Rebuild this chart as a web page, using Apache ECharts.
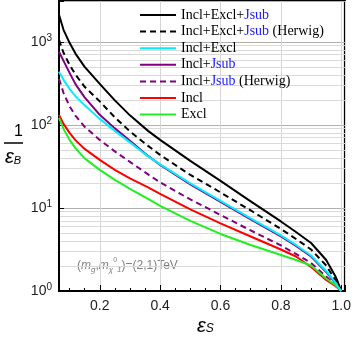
<!DOCTYPE html>
<html><head><meta charset="utf-8">
<script src="https://cdn.jsdelivr.net/npm/echarts@6/dist/echarts.min.js"></script>
<style>html,body{margin:0;padding:0;background:#fff}#c{width:354px;height:339px}</style>
</head><body><div id="c"></div>
<script>
const eps = [0.065, 0.08, 0.1, 0.12, 0.15, 0.2, 0.25, 0.3, 0.36, 0.4, 0.5, 0.6, 0.7, 0.8, 0.85, 0.9, 0.95, 0.98, 0.99, 1.0];
const inclExclJsub = [2115, 1395, 972.7, 716.9, 499.7, 311.9, 197.3, 130.2, 84.7, 65.95, 36.8, 21.15, 11.97, 6.876, 5.137, 3.787, 2.363, 1.516, 1.248, 1.0];
const inclExclJsubHerwig = [1057, 737.1, 528.4, 400.5, 287.0, 191.9, 123.1, 83.5, 55.85, 43.5, 24.98, 15.37, 9.331, 5.585, 4.231, 3.162, 2.029, 1.357, 1.165, 1.0];
const inclExcl = [435.1, 348.5, 271.5, 220.5, 171.8, 118.1, 84.67, 61.54, 41.73, 33.43, 19.73, 12.14, 7.474, 4.664, 3.583, 2.678, 1.742, 1.266, 1.117, 1.0];
const inclJsub = [757.9, 590.3, 423.1, 307.6, 214.5, 132.0, 90.76, 64.15, 42.31, 32.97, 19.19, 11.81, 7.269, 4.535, 3.485, 2.604, 1.694, 1.248, 1.102, 1.0];
const inclJsubHerwig = [358.3, 242.9, 167.1, 128.4, 94.6, 65.96, 47.94, 35.83, 25.33, 20.29, 12.66, 8.235, 5.357, 3.533, 2.792, 2.175, 1.495, 1.181, 1.087, 1.0];
const incl = [132.0, 102.8, 80.08, 65.05, 51.38, 37.87, 28.70, 22.67, 17.66, 14.75, 9.592, 6.507, 4.535, 3.162, 2.604, 1.946, 1.357, 1.149, 1.072, 1.0];
const excl = [121.4, 89.47, 65.96, 52.11, 39.48, 28.70, 21.74, 16.94, 12.84, 10.57, 6.973, 4.862, 3.583, 2.715, 2.363, 2.029, 1.414, 1.181, 1.087, 1.0];
const seriesNames = ['Incl+Excl+Jsub', 'Incl+Excl+Jsub (Herwig)', 'Incl+Excl', 'Incl+Jsub', 'Incl+Jsub (Herwig)', 'Incl', 'Excl'];
const minorGrid = [2,3,4,5,6,7,8,9,20,30,40,50,60,70,80,90,200,300,400,500,600,700,800,900];
const yMajor = [1, 10, 100, 1000];

const pts = arr => eps.map((x, i) => [x, arr[i]]);
const chart = echarts.init(document.getElementById('c'));
const mk = (name, data, color, type, z) => ({
  name, type: 'line', data: pts(data), showSymbol: false, symbol: 'none',
  smooth: false, z: z || 3,
  lineStyle: { color, width: 2, type: type === 'dashed' ? [6, 4] : 'solid', join: 'round' },
  itemStyle: { color }
});
const serif = 'Liberation Serif, Times New Roman, serif';
const sans = 'Liberation Sans, Arial, sans-serif';
chart.setOption({
  animation: false,
  backgroundColor: '#fff',
  grid: { left: 59, right: 6, top: 1, bottom: 48, show: true, borderColor: '#000', borderWidth: 2, backgroundColor: 'transparent' },
  legend: {
    orient: 'vertical', left: 134, top: 3, itemWidth: 36, itemHeight: 10, itemGap: 2.6, z: 20,
    selectedMode: false,
    data: seriesNames,
    itemStyle: { color: 'transparent', borderColor: 'transparent', borderWidth: 0 },
    formatter: n => n.replace('Jsub', '{j|Jsub}'),
    textStyle: { fontFamily: serif, fontSize: 14, color: '#000', lineHeight: 14,
      rich: { j: { fontFamily: serif, fontSize: 14, color: '#1a1aff', lineHeight: 14 } } }
  },
  xAxis: [{
    type: 'value', min: 0.065, max: 1.012, splitNumber: 5,
    axisLine: { onZero: false, lineStyle: { color: '#000', width: 2 } },
    axisTick: { inside: true, length: 6, lineStyle: { color: '#000', width: 1 } },
    axisLabel: { margin: 8, fontFamily: sans, fontSize: 14, color: '#222',
      formatter: v => (Math.abs(v * 5 - Math.round(v * 5)) < 1e-6) ? v.toFixed(1) : '' },
    splitLine: { show: true, lineStyle: { color: '#d6d6d6', width: 1 } }
  }, {
    type: 'value', min: 0.065, max: 1.012, splitNumber: 19, position: 'bottom',
    axisLine: { show: false, onZero: false },
    axisTick: { inside: true, length: 3, lineStyle: { color: '#000', width: 1 } },
    axisLabel: { show: false }, splitLine: { show: false }
  }],
  yAxis: {
    type: 'log', logBase: 10, min: 1, max: 3100,
    axisLine: { lineStyle: { color: '#000', width: 2 } },
    axisTick: { inside: true, length: 5, lineStyle: { color: '#000', width: 1 } },
    axisLabel: { margin: 7, fontFamily: sans, fontSize: 14, color: '#222',
      formatter: v => { const e = Math.round(Math.log10(v)); return yMajor.includes(v) ? '{b|10}{s|' + e + '}' : ''; },
      rich: { b: { fontFamily: sans, fontSize: 14, color: '#222', lineHeight: 18 },
              s: { fontFamily: sans, fontSize: 10, color: '#222', lineHeight: 11, verticalAlign: 'top' } } },
    splitLine: { show: true, lineStyle: { color: '#b0b0b0', width: 1 } }
  },
  series: [
    { type: 'line', data: [], z: 0, silent: true,
      markLine: { silent: true, symbol: 'none', label: { show: false }, z: 0,
        lineStyle: { color: '#dadada', width: 1, type: 'solid' },
        data: minorGrid.map(v => ({ yAxis: v })) } },
    mk(seriesNames[0], inclExclJsub, '#000000', 'solid'),
    mk(seriesNames[1], inclExclJsubHerwig, '#000000', 'dashed'),
    mk(seriesNames[3], inclJsub, '#800080', 'solid'),
    mk(seriesNames[2], inclExcl, '#00eeff', 'solid', 4),
    mk(seriesNames[4], inclJsubHerwig, '#800080', 'dashed'),
    mk(seriesNames[5], incl, '#ff0000', 'solid'),
    mk(seriesNames[6], excl, '#22ee22', 'solid')
  ],
  graphic: [
    { type: 'text', left: 14, top: 124, style: { text: '1', font: '16px ' + sans, fill: '#000' } },
    { type: 'line', shape: { x1: 4, y1: 143, x2: 23, y2: 143 }, style: { stroke: '#000', lineWidth: 1.5 } },
    { type: 'text', left: 5, top: 147, style: { text: '{e|ε}{s|B}',
      rich: { e: { font: 'italic 20px ' + sans, fill: '#000', lineHeight: 18 },
              s: { font: 'italic 11px ' + sans, fill: '#000', lineHeight: 11, verticalAlign: 'bottom' } } } },
    { type: 'text', left: 197, top: 316, style: { text: '{e|ε}{s|S}',
      rich: { e: { font: 'italic 20px ' + sans, fill: '#000', lineHeight: 18 },
              s: { font: 'italic 12px ' + sans, fill: '#000', lineHeight: 11, verticalAlign: 'bottom' } } } },
    { type: 'text', left: 77, top: 257, style: {
      text: '{n|(}{m|m}{s|g̃}{n|,}{m|m}{s|χ̃}{t|0}{s|1}{n|)=(2,1)TeV}',
      rich: { n: { font: '12px ' + sans, fill: '#808080', lineHeight: 17 },
              m: { font: 'italic 12px ' + sans, fill: '#808080', lineHeight: 17 },
              s: { font: 'italic 8px ' + sans, fill: '#808080', lineHeight: 9, verticalAlign: 'bottom' },
              t: { font: '7px ' + sans, fill: '#808080', lineHeight: 8, verticalAlign: 'top' } } } }
  ]
});
</script></body></html>
